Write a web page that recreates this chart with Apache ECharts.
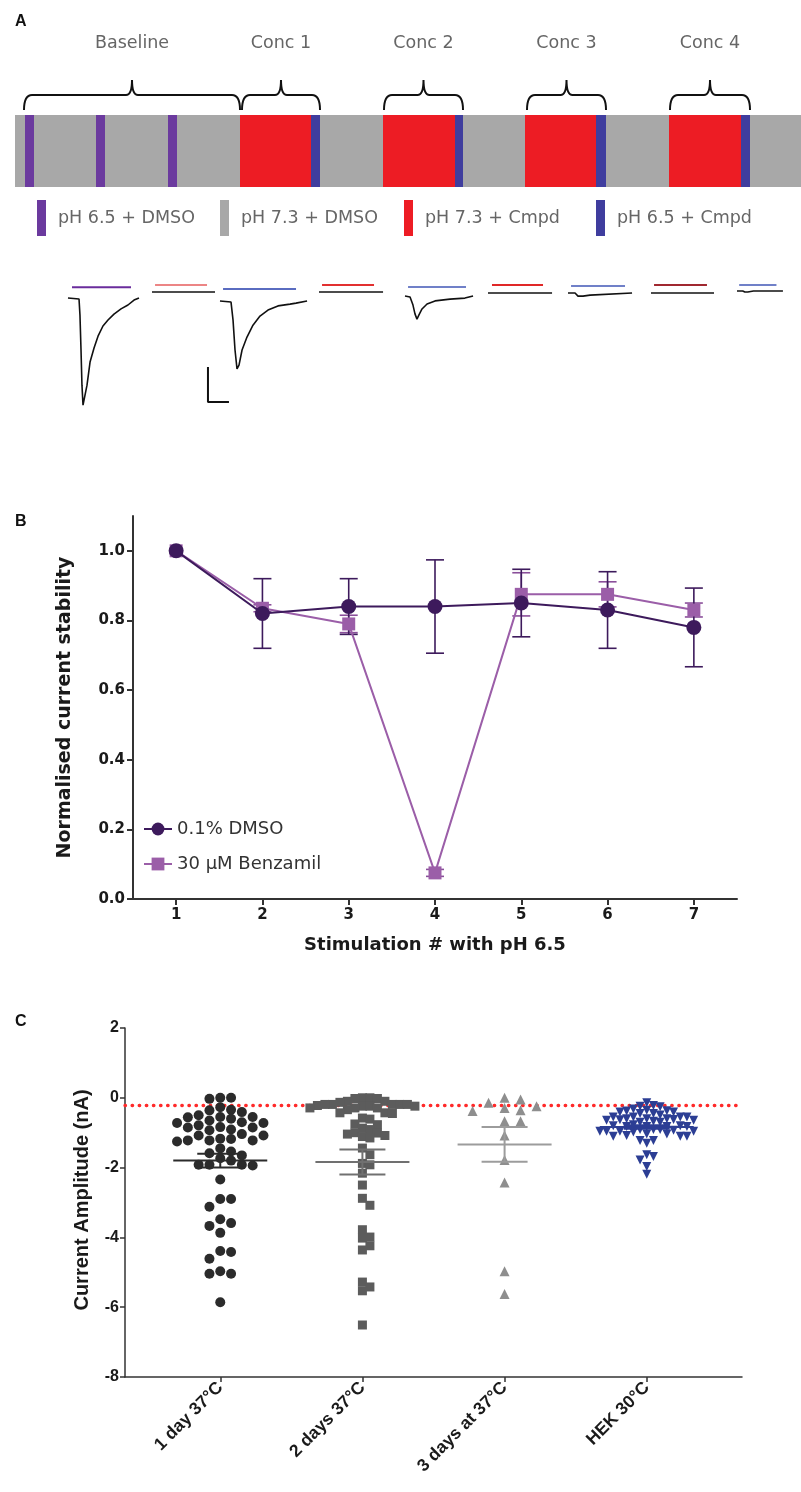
<!DOCTYPE html>
<html>
<head>
<meta charset="utf-8">
<script src="https://cdn.jsdelivr.net/npm/echarts@6/dist/echarts.min.js"></script>
<style>
html, body { margin: 0; padding: 0; background: #fff; }
#main { width: 801px; height: 1492px; }
</style>
</head>
<body>
<div id="main"></div>
<script>
// ---------- panel A : perfusion protocol ----------
var protoTypes = ['pH 6.5 + DMSO', 'pH 7.3 + DMSO', 'pH 7.3 + Cmpd', 'pH 6.5 + Cmpd'];
var protoSeq = [1, 0, 1, 0, 1, 0, 1, 2, 3, 1, 2, 3, 1, 2, 3, 1, 2, 3, 1];
var protoDur = [10, 9, 62, 9, 63, 9, 63, 71, 9, 63, 72, 8, 62, 71, 10, 63, 72, 9, 51];
var braceNames = ['Baseline', 'Conc 1', 'Conc 2', 'Conc 3', 'Conc 4'];
var braceFrom = [9, 227, 369, 512, 655];
var braceTo = [225, 305, 448, 591, 735];

// example current traces: [time (s), current (nA)]
var trace1 = [[0,0],[1.05,-0.03],[1.14,-0.49],[1.24,-1.49],[1.33,-2.49],[1.43,-3.06],[1.6,-3.06],[1.81,-2.49],[2.1,-1.83],[2.48,-1.43],[2.86,-1.09],[3.33,-0.8],[3.81,-0.63],[4.38,-0.46],[5.05,-0.31],[5.71,-0.2],[6.29,-0.06],[6.76,0]];
var trace2 = [[0,0],[6.0,0]];
var trace3 = [[0,0],[1.05,-0.03],[1.24,-0.54],[1.43,-1.4],[1.62,-1.94],[1.81,-1.83],[2.1,-1.4],[2.57,-1.03],[3.14,-0.69],[3.81,-0.43],[4.57,-0.26],[5.52,-0.14],[6.67,-0.09],[7.24,-0.06],[8.29,0]];
var trace4 = [[0,0],[6.1,0]];
var trace5 = [[0,0],[0.48,-0.03],[0.76,-0.26],[0.95,-0.51],[1.14,-0.66],[1.33,-0.54],[1.62,-0.37],[2.1,-0.23],[2.86,-0.14],[4.29,-0.09],[5.71,-0.06],[6.48,0]];
var trace6 = [[0,0],[6.1,0]];
var trace7 = [[0,0],[0.67,0],[0.95,-0.09],[1.14,-0.14],[1.43,-0.09],[2.1,-0.06],[6.1,0]];
var trace8 = [[0,0],[6.0,0]];
var trace9 = [[0,0],[0.76,0],[1.05,-0.03],[1.43,-0.03],[2.19,0],[6.1,0]];
var traces = [trace1, trace2, trace3, trace4, trace5, trace6, trace7, trace8, trace9];
var stimOn = [0.38, 0.29, 0.29, 0.29, 0.29, 0.38, 0.29, 0.29, 0.29];
var stimOff = [6.0, 5.24, 7.24, 5.24, 5.81, 5.24, 5.43, 5.33, 5.24];
var stimLevel = [0.31, 0.2, 0.34, 0.2, 0.26, 0.23, 0.2, 0.23, 0.17];
var scaleBarNA = 1, scaleBarS = 2;

// ---------- panel B ----------
var stimNum = [1, 2, 3, 4, 5, 6, 7];
var dmsoMean = [1.0, 0.82, 0.84, 0.84, 0.85, 0.83, 0.78];
var dmsoErr = [0, 0.10, 0.08, 0.134, 0.097, 0.11, 0.113];
var benzMean = [1.0, 0.835, 0.79, 0.075, 0.875, 0.875, 0.83];
var benzErr = [0, 0.01, 0.025, 0.01, 0.062, 0.036, 0.02];

// ---------- panel C ----------
var groupNames = ['1 day 37°C', '2 days 37°C', '3 days at 37°C', 'HEK 30°C'];
var amp1day = [0,0,-0.03,-0.27,-0.34,-0.36,-0.41,-0.56,-0.55,-0.6,-0.5,-0.55,-0.72,-0.65,-0.72,-0.7,-0.79,-0.84,-0.85,-0.85,-0.91,-0.93,-1.04,-1.08,-1.17,-1.25,-1.22,-1.22,-1.18,-1.22,-1.08,-1.45,-1.54,-1.59,-1.65,-1.73,-1.8,-1.94,-1.92,-1.92,-1.92,-2.34,-2.9,-2.9,-3.12,-3.48,-3.59,-3.67,-3.87,-4.39,-4.42,-4.61,-4.97,-5.04,-5.04,-5.86];
var amp2days = [-0.1,-0.02,0,-0.02,0,-0.1,-0.13,-0.19,-0.19,-0.19,-0.19,-0.19,-0.29,-0.29,-0.24,-0.24,-0.22,-0.29,-0.24,-0.34,-0.43,-0.43,-0.45,-0.61,-0.58,-0.77,-0.75,-0.87,-0.91,-1.0,-1.01,-1.11,-1.08,-1.04,-1.15,-1.44,-1.63,-1.92,-1.88,-2.16,-2.5,-2.88,-3.08,-3.78,-3.99,-4.02,-4.24,-4.36,-5.28,-5.42,-5.53,-6.51];
var amp3days = [0,-0.05,-0.14,-0.29,-0.38,-0.24,-0.36,-0.67,-0.67,-1.08,-1.78,-2.43,-4.97,-5.62];
var ampHEK = [-0.14,-0.24,-0.22,-0.26,-0.32,-0.36,-0.38,-0.41,-0.37,-0.41,-0.45,-0.45,-0.49,-0.55,-0.55,-0.55,-0.6,-0.62,-0.6,-0.64,-0.6,-0.55,-0.63,-0.64,-0.67,-0.7,-0.7,-0.77,-0.82,-0.8,-0.8,-0.82,-0.82,-0.82,-0.98,-0.91,-0.91,-0.91,-0.96,-0.96,-0.96,-0.96,-0.93,-1.1,-1.04,-1.1,-1.1,-1.04,-1.08,-1.22,-1.22,-1.3,-1.63,-1.68,-1.78,-1.97,-2.19];
var groupMean = [-1.8, -1.84, -1.335, -0.84];
var groupSem = [0.2, 0.36, 0.5, 0.05];
var cutoff = -0.2;

// ---------- styles / layout ----------
var protoColors = ['#6b3a9e', '#a8a8a8', '#ed1c24', '#3f3d9e'];
var stimColors = ['#6a2c9c', '#ec8585', '#5a6cc0', '#e23030', '#7080c8', '#e02828', '#7080c8', '#a02830', '#7080c8'];
var traceOrigin = [[68,298],[152,292],[220,301],[319,292],[405,296],[488,293],[568,293],[651,293],[737,291]];
var secPx = 10.5, naPx = 35, tMax = 8.5, iMin = -3.2, iMax = 0.6;
var grpColors = ['#2b2b2b', '#5c5c5c', '#8e8e8e', '#2c3e94'];
var grpBarColors = ['#2b2b2b', '#707070', '#9c9c9c', '#2c3e94'];
var grpSymbols = ['circle', 'rect', 'triangle', 'path://M0,0 L10,0 L5,9 Z'];
var grpSizes = [10, 9, 10, 9];
var grpStep = [10.8, 7.5, 16, 6.7];
var grpMinDy = [9, 8, 10, 7];
var gridC = { left: 125, top: 1028, width: 617, height: 349 };
var cxMin = 0.33, cxMax = 4.67;

var segs = [];
var tAcc = 0;
protoSeq.forEach(function (k, i) { segs.push([tAcc, tAcc + protoDur[i], k]); tAcc += protoDur[i]; });

function swarm(vals, center, stepPx, minDy) {
    var pxX = gridC.width / (cxMax - cxMin), pxY = gridC.height / 10;
    var sorted = vals.slice().sort(function (a, b) { return b - a; });
    var placed = [], out = [];
    sorted.forEach(function (v) {
        var y = v * pxY;
        for (var k = 0; k < 60; k++) {
            var col = k === 0 ? 0 : (k % 2 ? (k + 1) / 2 : -k / 2);
            var clash = placed.some(function (p) { return p.c === col && Math.abs(p.y - y) < minDy; });
            if (!clash) { placed.push({ c: col, y: y }); out.push([center + col * stepPx / pxX, v]); break; }
        }
    });
    return out;
}

var grids = [{ left: 15, top: 115, width: 786, height: 72 }];
var xAxes = [{ gridIndex: 0, type: 'value', min: 0, max: tAcc, show: false }];
var yAxes = [{ gridIndex: 0, type: 'value', min: 0, max: 1, show: false }];
var series = [];

series.push({
    type: 'custom', xAxisIndex: 0, yAxisIndex: 0, data: segs, silent: true,
    renderItem: function (p, api) {
        var a = api.coord([api.value(0), 1]), b = api.coord([api.value(1), 0]);
        return { type: 'rect', shape: { x: a[0], y: a[1], width: b[0] - a[0], height: b[1] - a[1] }, style: { fill: protoColors[api.value(2)] } };
    }
});
series.push({
    type: 'custom', xAxisIndex: 0, yAxisIndex: 0, silent: true,
    data: braceNames.map(function (n, i) { return [braceFrom[i], braceTo[i], i]; }),
    renderItem: function (p, api) {
        var l = api.coord([api.value(0), 1]), r = api.coord([api.value(1), 1]);
        var x1 = l[0], x2 = r[0], y0 = l[1], cx = (x1 + x2) / 2;
        var yE = y0 - 5, yA = y0 - 20, yT = y0 - 35;
        var d = 'M' + x1 + ',' + yE + ' Q' + x1 + ',' + yA + ' ' + (x1 + 8) + ',' + yA +
            ' L' + (cx - 6) + ',' + yA + ' Q' + cx + ',' + yA + ' ' + cx + ',' + yT +
            ' Q' + cx + ',' + yA + ' ' + (cx + 6) + ',' + yA +
            ' L' + (x2 - 8) + ',' + yA + ' Q' + x2 + ',' + yA + ' ' + x2 + ',' + yE;
        return { type: 'group', children: [
            { type: 'path', shape: { pathData: d }, style: { stroke: '#111', fill: null, lineWidth: 2 } },
            { type: 'text', x: cx, y: y0 - 72, style: { text: braceNames[api.value(2)], align: 'center', verticalAlign: 'middle', fill: '#666', fontSize: 17.5, fontFamily: 'DejaVu Sans' } }
        ] };
    }
});

// trace grids
traces.forEach(function (tr, i) {
    var gi = grids.length;
    grids.push({ left: traceOrigin[i][0], top: traceOrigin[i][1] - iMax * naPx, width: tMax * secPx, height: (iMax - iMin) * naPx });
    xAxes.push({ gridIndex: gi, type: 'value', min: 0, max: tMax, show: false });
    yAxes.push({ gridIndex: gi, type: 'value', min: iMin, max: iMax, show: false });
    series.push({ type: 'line', xAxisIndex: gi, yAxisIndex: gi, data: tr, symbol: 'none', silent: true,
        lineStyle: { color: '#111', width: 1.6 }, animation: false });
    series.push({ type: 'line', xAxisIndex: gi, yAxisIndex: gi, symbol: 'none', silent: true,
        data: [[stimOn[i], stimLevel[i]], [stimOff[i], stimLevel[i]]],
        lineStyle: { color: stimColors[i], width: 2 }, animation: false });
    if (i === 1) {
        var sx = 5.33, sy = -2.14;
        series.push({ type: 'line', xAxisIndex: gi, yAxisIndex: gi, symbol: 'none', silent: true,
            data: [[sx, sy], [sx, sy - scaleBarNA], [sx + scaleBarS, sy - scaleBarNA]],
            lineStyle: { color: '#111', width: 2 }, animation: false });
    }
});

// panel B
var gB = grids.length;
grids.push({ left: 133, top: 516, width: 604, height: 383 });
var fontB = 'DejaVu Sans';
xAxes.push({
    gridIndex: gB, type: 'value', min: 0.5, max: 7.5,
    name: 'Stimulation # with pH 6.5', nameLocation: 'middle', nameGap: 37,
    nameTextStyle: { fontFamily: fontB, fontWeight: 'bold', fontSize: 18, color: '#1a1a1a' },
    axisLine: { lineStyle: { color: '#333', width: 2 } },
    axisTick: { customValues: stimNum, length: 6, lineStyle: { width: 2, color: '#333' } },
    axisLabel: { customValues: stimNum, fontFamily: fontB, fontWeight: 'bold', fontSize: 15, color: '#1a1a1a', margin: 9 },
    splitLine: { show: false }
});
var yTicksB = [0, 0.2, 0.4, 0.6, 0.8, 1.0];
yAxes.push({
    gridIndex: gB, type: 'value', min: 0, max: 1.1,
    name: 'Normalised current stability', nameLocation: 'middle', nameGap: 58,
    nameTextStyle: { fontFamily: fontB, fontWeight: 'bold', fontSize: 19, color: '#1a1a1a' },
    axisLine: { show: true, lineStyle: { color: '#333', width: 2 } },
    axisTick: { show: true, customValues: yTicksB, length: 6, lineStyle: { width: 2, color: '#333' } },
    axisLabel: { customValues: yTicksB, fontFamily: fontB, fontWeight: 'bold', fontSize: 15, color: '#1a1a1a', margin: 8,
        formatter: function (v) { return v.toFixed(1); } },
    splitLine: { show: false }
});
function errRender(color) {
    return function (p, api) {
        var x = api.value(0), m = api.value(1), e = api.value(2);
        if (!e) return;
        var t = api.coord([x, m + e]), b = api.coord([x, m - e]), w = 9;
        var st = { stroke: color, lineWidth: 1.6 };
        return { type: 'group', children: [
            { type: 'line', shape: { x1: t[0], y1: t[1], x2: b[0], y2: b[1] }, style: st },
            { type: 'line', shape: { x1: t[0] - w, y1: t[1], x2: t[0] + w, y2: t[1] }, style: st },
            { type: 'line', shape: { x1: b[0] - w, y1: b[1], x2: b[0] + w, y2: b[1] }, style: st }
        ] };
    };
}
series.push({ type: 'custom', xAxisIndex: gB, yAxisIndex: gB, z: 1, silent: true,
    data: stimNum.map(function (s, i) { return [s, benzMean[i], benzErr[i]]; }), renderItem: errRender('#8a4f9a') });
series.push({ type: 'custom', xAxisIndex: gB, yAxisIndex: gB, z: 1, silent: true,
    data: stimNum.map(function (s, i) { return [s, dmsoMean[i], dmsoErr[i]]; }), renderItem: errRender('#3d1a5c') });
series.push({ name: '30 μM Benzamil', type: 'line', xAxisIndex: gB, yAxisIndex: gB, z: 2,
    data: stimNum.map(function (s, i) { return [s, benzMean[i]]; }),
    symbol: 'rect', symbolSize: 13, itemStyle: { color: '#9b5ea8' }, lineStyle: { color: '#9b5ea8', width: 2 }, animation: false });
series.push({ name: '0.1% DMSO', type: 'line', xAxisIndex: gB, yAxisIndex: gB, z: 3,
    data: stimNum.map(function (s, i) { return [s, dmsoMean[i]]; }),
    symbol: 'circle', symbolSize: 15, itemStyle: { color: '#3d1a5c' }, lineStyle: { color: '#3d1a5c', width: 2 }, animation: false });

// panel C
var gC = grids.length;
grids.push(gridC);
var fontC = 'Liberation Sans';
var catVals = [1, 2, 3, 4];
xAxes.push({
    gridIndex: gC, type: 'value', min: cxMin, max: cxMax,
    axisLine: { onZero: false, lineStyle: { color: '#333', width: 1.5 } },
    axisTick: { customValues: catVals, length: 5, lineStyle: { width: 1.5, color: '#333' } },
    axisLabel: { customValues: catVals, rotate: 45, margin: 8, fontFamily: fontC, fontWeight: 'bold', fontSize: 17.5, color: '#1a1a1a',
        formatter: function (v) { return groupNames[Math.round(v) - 1]; } },
    splitLine: { show: false }
});
yAxes.push({
    gridIndex: gC, type: 'value', min: -8, max: 2, interval: 2,
    axisLine: { show: true, lineStyle: { color: '#333', width: 1.5 } },
    axisTick: { show: true, length: 5, lineStyle: { width: 1.5, color: '#333' } },
    axisLabel: { fontFamily: fontC, fontWeight: 'bold', fontSize: 16, color: '#1a1a1a', margin: 6 },
    splitLine: { show: false }
});
[amp1day, amp2days, amp3days, ampHEK].forEach(function (vals, g) {
    var s = {
        type: 'scatter', xAxisIndex: gC, yAxisIndex: gC, z: 3, silent: true,
        data: swarm(vals, catVals[g], grpStep[g], grpMinDy[g]),
        symbol: grpSymbols[g], symbolSize: grpSizes[g], itemStyle: { color: grpColors[g], opacity: 1 }, animation: false
    };
    if (g === 0) {
        s.markLine = { silent: true, symbol: 'none', label: { show: false }, z: 2,
            lineStyle: { color: '#ff2a2a', width: 3.3, type: [0.5, 6.6], cap: 'round' },
            data: [{ yAxis: cutoff }] };
    }
    series.push(s);
});
series.push({
    type: 'custom', xAxisIndex: gC, yAxisIndex: gC, z: 4, silent: true,
    data: catVals.map(function (c, i) { return [c, groupMean[i], groupSem[i], i]; }),
    renderItem: function (p, api) {
        var x = api.value(0), m = api.value(1), e = api.value(2), col = grpBarColors[api.value(3)];
        var c = api.coord([x, m]), t = api.coord([x, m + e]), b = api.coord([x, m - e]);
        var st = { stroke: col, lineWidth: 2 };
        return { type: 'group', children: [
            { type: 'line', shape: { x1: c[0] - 47, y1: c[1], x2: c[0] + 47, y2: c[1] }, style: st },
            { type: 'line', shape: { x1: t[0], y1: t[1], x2: b[0], y2: b[1] }, style: st },
            { type: 'line', shape: { x1: t[0] - 23, y1: t[1], x2: t[0] + 23, y2: t[1] }, style: st },
            { type: 'line', shape: { x1: b[0] - 23, y1: b[1], x2: b[0] + 23, y2: b[1] }, style: st }
        ] };
    }
});

// protocol legend, panel C axis title, panel letters
var graphics = [];
var swX = [37, 220, 404, 596];
protoTypes.forEach(function (name, i) {
    graphics.push({ type: 'rect', left: swX[i], top: 200, shape: { width: 9, height: 36 }, style: { fill: protoColors[i] } });
    graphics.push({ type: 'text', x: swX[i] + 21, y: 218, style: { text: name, fill: '#666', fontSize: 17.5, fontFamily: 'DejaVu Sans', verticalAlign: 'middle' } });
});
graphics.push({ type: 'text', x: 82, y: 1200, rotation: Math.PI / 2,
    style: { text: 'Current Amplitude (nA)', align: 'center', verticalAlign: 'middle', fill: '#1a1a1a', fontSize: 20, fontWeight: 'bold', fontFamily: fontC } });
[['A', 14], ['B', 514], ['C', 1014]].forEach(function (l) {
    graphics.push({ type: 'text', left: 15, top: l[1], style: { text: l[0], fill: '#111', fontSize: 16, fontWeight: 'bold', fontFamily: 'Liberation Sans' } });
});

var chart = echarts.init(document.getElementById('main'));
chart.setOption({
    backgroundColor: '#fff',
    animation: false,
    grid: grids,
    xAxis: xAxes,
    yAxis: yAxes,
    legend: {
        data: ['0.1% DMSO', '30 μM Benzamil'], orient: 'vertical', left: 138, top: 815,
        itemWidth: 28, itemHeight: 16, itemGap: 17,
        textStyle: { fontFamily: 'DejaVu Sans', fontSize: 18, color: '#333' }
    },
    series: series,
    graphic: graphics
});
</script>
</body>
</html>
